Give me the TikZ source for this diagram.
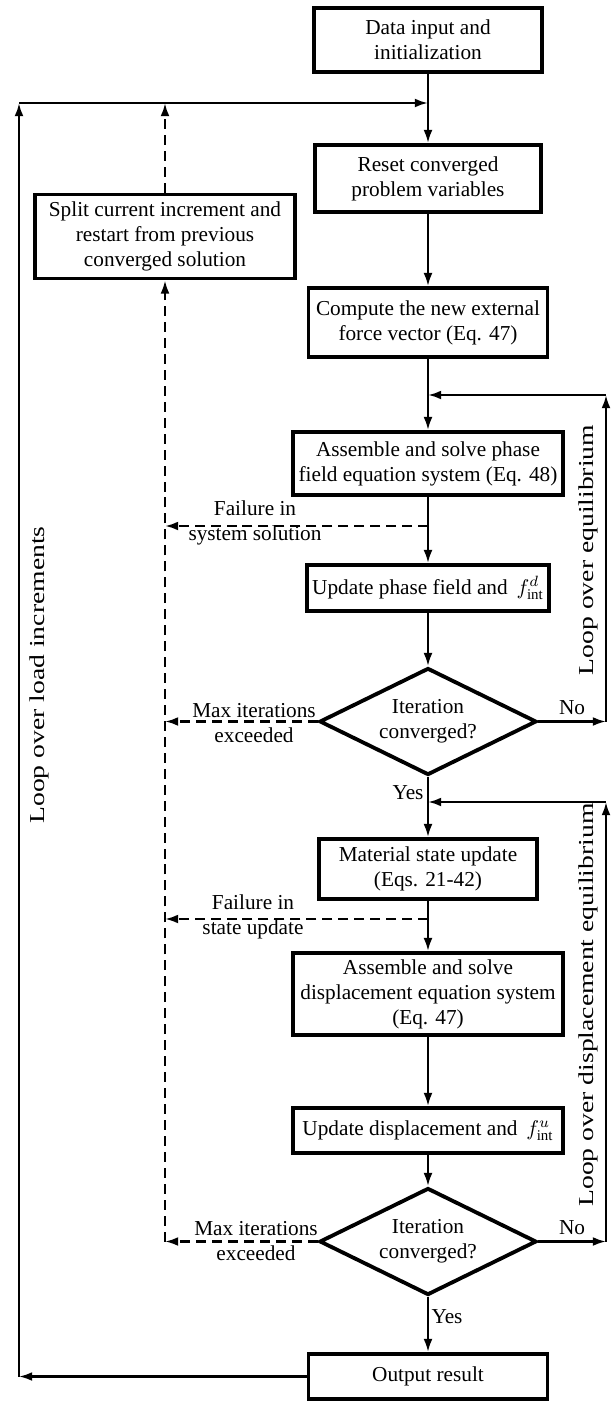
\documentclass[tikz,border=0pt]{standalone}
\usepackage{fontspec}
\setmainfont{Liberation Serif}
\usepackage{amsmath}
\usetikzlibrary{arrows.meta,shapes.geometric}
\tikzset{
  kasten/.style={draw,line width=1.8pt,align=center,inner sep=1pt},
  raute/.style={draw,diamond,aspect=2,line width=1.8pt,align=center,inner sep=0pt,minimum width=102pt,minimum height=50.3pt},
  pfeil/.style={-{Latex[length=6.2pt,width=4.2pt]},line width=1.1pt},
  fehl/.style={pfeil,dash pattern=on 4.7pt off 2.8pt},
  marke/.style={align=center,inner sep=0pt},
  schleife/.style={rotate=90,xscale=1.3,inner sep=0pt},
}

\begin{document}
\begin{tikzpicture}[x=0.47pt,y=-0.47pt,font=\fontsize{10}{11.75}\selectfont]
  \useasboundingbox (0,0) rectangle (613,1401);
  % Kaesten
  \node[kasten,minimum width=107.2pt,minimum height=30.1pt] (eingabe) at (428,40) {Data input and\\initialization};
  \node[kasten,minimum width=106.2pt,minimum height=31.5pt] (reset) at (428,178.5) {Reset converged\\problem variables};
  \node[kasten,minimum width=122.2pt,minimum height=39.5pt] (split) at (165,236.5) {Split current increment and\\restart from previous\\converged solution};
  \node[kasten,minimum width=112.3pt,minimum height=32.4pt] (kraft) at (428,322.5) {Compute the new external\\force vector (Eq. 47)};
  \node[kasten,minimum width=126.9pt,minimum height=29.6pt] (phase) at (428,463.5) {Assemble and solve phase\\field equation system (Eq. 48)};
  \node[kasten,minimum width=113.7pt,minimum height=21.6pt] (updd) at (428,588) {Update phase field and $\,f^{d}_{\mathrm{int}}$};
  \node[raute] (konv1) at (428,721.5) {Iteration\\converged?};
  \node[kasten,minimum width=102.5pt,minimum height=28.2pt] (mat) at (428,869) {Material state update\\(Eqs. 21-42)};
  \node[kasten,minimum width=126.9pt,minimum height=38.5pt] (verschieb) at (428,994) {Assemble and solve\\displacement equation system\\(Eq. 47)};
  \node[kasten,minimum width=126.9pt,minimum height=21.2pt] (updu) at (428,1130.5) {Update displacement and $\,f^{u}_{\mathrm{int}}$};
  \node[raute] (konv2) at (428,1241.5) {Iteration\\converged?};
  \node[kasten,minimum width=112.3pt,minimum height=21.2pt] (ausgabe) at (428,1376.5) {Output result};

  \coordinate (lastoben) at (19,103);
  \coordinate (gleichoben) at (606,395);
  \coordinate (verschoben) at (606,802);
  \coordinate (fehl1) at (428,526);
  \coordinate (fehl2) at (428,919);

  % Hauptpfad
  \draw[pfeil] (eingabe) -- (reset);
  \draw[pfeil] (reset) -- (kraft);
  \draw[pfeil] (kraft) -- (phase);
  \draw[pfeil] (phase) -- (updd);
  \draw[pfeil] (updd) -- (konv1);
  \draw[pfeil] (konv1) -- (mat);
  \draw[pfeil] (mat) -- (verschieb);
  \draw[pfeil] (verschieb) -- (updu);
  \draw[pfeil] (updu) -- (konv2);
  \draw[pfeil] (konv2) -- (ausgabe);

  % Schleifen
  \draw[pfeil] (ausgabe.west) -- (ausgabe.west -| lastoben);
  \draw[pfeil] (ausgabe.west -| lastoben) -- (lastoben);
  \draw[pfeil] (lastoben) -- (lastoben -| eingabe);
  \draw[pfeil] (konv1.east) -- (konv1.east -| gleichoben);
  \draw[pfeil] (konv1.east -| gleichoben) -- (gleichoben);
  \draw[pfeil] (gleichoben) -- (gleichoben -| phase);
  \draw[pfeil] (konv2.east) -- (konv2.east -| verschoben);
  \draw[pfeil] (konv2.east -| verschoben) -- (verschoben);
  \draw[pfeil] (verschoben) -- (verschoben -| mat);

  % Abbruch
  \draw[fehl] (split.north) -- (split.north |- lastoben);
  \draw[fehl] (konv2.west -| split) -- (split.south);
  \draw[fehl] (fehl1) -- (fehl1 -| split);
  \draw[fehl] (konv1.west) -- (konv1.west -| split);
  \draw[fehl] (fehl2) -- (fehl2 -| split);
  \draw[fehl] (konv2.west) -- (konv2.west -| split);

  % Beschriftung
  \node[marke] (t1) at (255,523) {Failure in\\system solution};
  \node[marke] (t2) at (254,723) {Max iterations\\exceeded};
  \node[marke] (t3) at (253,917) {Failure in\\state update};
  \node[marke] (t4) at (256,1241.5) {Max iterations\\exceeded};
  \node[marke] (nein1) at (572,708) {No};
  \node[marke] (nein2) at (572,1228) {No};
  \node[marke] (ja1) at (408,793) {Yes};
  \node[marke] (ja2) at (447,1317) {Yes};
  \node[schleife] (lschleife) at (39,675) {Loop over load increments};
  \node[schleife] (gschleife) at (588,550) {Loop over equilibrium};
  \node[schleife] (vschleife) at (588,1005) {Loop over displacement equilibrium};
\end{tikzpicture}
\end{document}
